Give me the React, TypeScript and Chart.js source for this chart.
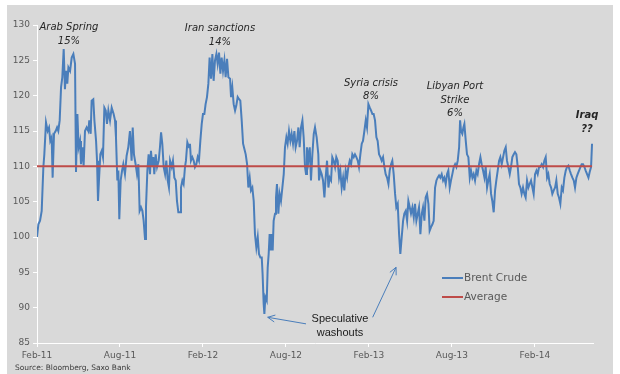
import { useEffect, useRef } from 'react';
import { Chart, registerables } from 'chart.js';

Chart.register(...registerables);

// ---- DATA ----
// [months since Feb-2011, Brent price USD/bbl]
const BRENT_POINTS: [number, number][] = [
  [0, 100.0], [0.10, 101.8], [0.22, 102.3], [0.34, 103.7], [0.46, 109.9], [0.53, 111.7], [0.65, 116.2], [0.77, 115.0], [0.87, 115.5], [0.96, 113.6],
  [1.06, 114.1], [1.13, 108.4], [1.23, 114.6], [1.35, 115.0], [1.45, 115.5], [1.54, 115.0], [1.64, 116.5], [1.74, 121.2], [1.83, 122.6], [1.93, 126.6],
  [2.02, 120.9], [2.10, 123.5], [2.19, 121.7], [2.27, 124.0], [2.39, 123.5], [2.51, 125.4], [2.63, 125.9], [2.75, 124.5], [2.82, 109.2], [2.92, 117.4],
  [3.01, 112.7], [3.11, 113.6], [3.18, 110.3], [3.28, 112.7], [3.37, 110.1], [3.47, 115.0], [3.59, 115.5], [3.71, 115.0], [3.78, 116.5], [3.88, 114.6],
  [3.95, 119.3], [4.07, 119.5], [4.15, 116.5], [4.27, 113.6], [4.34, 110.8], [4.41, 105.1], [4.48, 108.0], [4.58, 111.7], [4.68, 112.2], [4.77, 111.3],
  [4.87, 118.3], [4.97, 117.9], [5.06, 116.0], [5.16, 117.9], [5.28, 116.5], [5.40, 118.3], [5.54, 117.4], [5.64, 116.5], [5.71, 114.1], [5.81, 108.0],
  [5.88, 109.4], [5.95, 102.5], [6.05, 108.0], [6.15, 109.4], [6.24, 110.3], [6.36, 108.9], [6.48, 111.5], [6.60, 112.7], [6.72, 115.0], [6.84, 110.8],
  [6.92, 115.5], [7.01, 111.7], [7.13, 110.3], [7.23, 108.9], [7.33, 110.3], [7.42, 103.7], [7.52, 104.2], [7.62, 103.7], [7.71, 102.3], [7.81, 99.7],
  [7.88, 104.2], [7.98, 109.4], [8.07, 111.7], [8.17, 108.9], [8.24, 112.2], [8.34, 109.9], [8.41, 111.3], [8.48, 108.9], [8.58, 111.7], [8.68, 109.9],
  [8.80, 110.8], [8.89, 112.7], [8.97, 114.8], [9.06, 113.2], [9.16, 109.9], [9.26, 108.9], [9.35, 110.8], [9.45, 108.0], [9.54, 107.0], [9.62, 110.8],
  [9.74, 109.9], [9.83, 110.8], [9.93, 108.4], [10.03, 108.0], [10.12, 105.1], [10.22, 103.5],
  [10.34, 103.5], [10.41, 107.0], [10.51, 108.0], [10.60, 107.5], [10.70, 109.9], [10.77, 110.8], [10.87, 113.4], [10.99, 112.7], [11.06, 113.2], [11.13, 110.8],
  [11.23, 111.3], [11.33, 110.8], [11.42, 109.9], [11.52, 110.3], [11.62, 111.3], [11.71, 110.8], [11.81, 113.6], [11.91, 116.0], [12.00, 117.4], [12.10, 117.4],
  [12.19, 118.8], [12.29, 119.8], [12.39, 121.7], [12.48, 125.4], [12.58, 122.4], [12.68, 125.9], [12.77, 122.1], [12.87, 125.0], [12.97, 125.9], [13.06, 124.5],
  [13.16, 126.1], [13.26, 123.1], [13.35, 125.4], [13.45, 123.5], [13.55, 125.0], [13.64, 122.6], [13.74, 125.2], [13.84, 122.6], [13.96, 122.4], [14.03, 119.8],
  [14.12, 121.2], [14.22, 118.8], [14.32, 117.9], [14.41, 118.6], [14.51, 119.8], [14.61, 119.5], [14.70, 119.3], [14.80, 116.5], [14.90, 113.2], [14.99, 112.5],
  [15.09, 111.7], [15.19, 110.3], [15.28, 107.0], [15.38, 108.4], [15.47, 106.6], [15.57, 107.0], [15.67, 105.1], [15.76, 100.4], [15.86, 98.5], [15.96, 100.0],
  [16.05, 97.6], [16.15, 97.1], [16.25, 97.1], [16.31, 94.8], [16.39, 90.5], [16.44, 89.1], [16.51, 91.5], [16.61, 91.0], [16.68, 95.7], [16.75, 97.6],
  [16.82, 100.4], [16.90, 98.1], [16.97, 100.4], [17.04, 98.1], [17.11, 102.3], [17.21, 103.3], [17.28, 105.6], [17.35, 107.5], [17.45, 103.3], [17.54, 106.1],
  [17.64, 105.1], [17.74, 107.0], [17.84, 108.9], [17.93, 112.7], [18.03, 114.1], [18.12, 113.2], [18.22, 115.0], [18.32, 113.6], [18.41, 114.6], [18.51, 113.2],
  [18.61, 115.0], [18.70, 112.7], [18.80, 113.6], [18.90, 115.5], [18.99, 112.7], [19.09, 115.5], [19.19, 116.5], [19.28, 114.1], [19.38, 109.9], [19.45, 108.9],
  [19.52, 112.7], [19.62, 110.8], [19.72, 112.7], [19.81, 108.0], [19.91, 111.7], [20.01, 114.6], [20.10, 115.5], [20.22, 114.1], [20.34, 111.7],
  [20.39, 108.0], [20.49, 109.4], [20.58, 108.9], [20.68, 108.0], [20.78, 105.6], [20.87, 108.4], [20.97, 110.8], [21.07, 107.0], [21.16, 108.4], [21.26, 108.0],
  [21.35, 111.3], [21.45, 110.8], [21.55, 109.9], [21.64, 111.3], [21.74, 110.8], [21.84, 108.4], [21.93, 109.4], [22.03, 107.0], [22.13, 108.4], [22.22, 106.6],
  [22.32, 109.4], [22.42, 108.4], [22.51, 109.9], [22.61, 110.8], [22.71, 110.3], [22.80, 111.7], [22.90, 111.3], [22.99, 111.7], [23.09, 111.3], [23.19, 110.8],
  [23.28, 109.9], [23.38, 111.7], [23.48, 113.2], [23.57, 113.6], [23.67, 115.0], [23.77, 116.5], [23.86, 115.5], [23.96, 118.8], [24.06, 118.3], [24.15, 117.9],
  [24.25, 117.4], [24.34, 117.4], [24.44, 116.5], [24.54, 114.1], [24.63, 113.6], [24.73, 111.7], [24.83, 111.3], [24.92, 110.8], [25.02, 111.3], [25.12, 109.9],
  [25.21, 108.9], [25.31, 108.4], [25.41, 107.5], [25.50, 109.4], [25.60, 110.3], [25.69, 110.8], [25.79, 108.9], [25.89, 106.1], [25.98, 104.2], [26.08, 104.7],
  [26.18, 100.4], [26.27, 97.6], [26.37, 100.0], [26.47, 102.3], [26.56, 103.3], [26.66, 103.7], [26.76, 102.3], [26.85, 105.1], [26.95, 104.2], [27.04, 103.3],
  [27.14, 104.2], [27.24, 102.8], [27.33, 104.7], [27.43, 102.3], [27.53, 103.3], [27.62, 104.2], [27.72, 100.4], [27.82, 103.3], [27.91, 104.2], [28.01, 102.3],
  [28.10, 105.6], [28.20, 106.1], [28.30, 104.7], [28.39, 100.9], [28.49, 101.4], [28.59, 101.8], [28.68, 102.3], [28.78, 107.0], [28.88, 108.0], [28.97, 108.4],
  [29.07, 108.7], [29.16, 108.4], [29.26, 108.9], [29.36, 108.0], [29.45, 108.4], [29.55, 107.5], [29.65, 108.9], [29.74, 109.4], [29.84, 107.0], [29.93, 108.0],
  [30.03, 108.9], [30.13, 109.9], [30.23, 110.3], [30.32, 109.9], [30.42, 110.8], [30.52, 112.7],
  [30.59, 116.5], [30.66, 115.0], [30.75, 114.6], [30.83, 115.5], [30.90, 116.0], [31.00, 113.6], [31.09, 111.7], [31.19, 111.3], [31.29, 108.4], [31.38, 109.4],
  [31.48, 108.4], [31.57, 108.9], [31.67, 108.0], [31.77, 109.4], [31.86, 108.9], [31.96, 110.3], [32.06, 111.3], [32.15, 110.3], [32.25, 109.4], [32.35, 108.4],
  [32.44, 109.9], [32.54, 107.0], [32.63, 108.0], [32.73, 108.9], [32.83, 106.1], [32.92, 105.1], [33.02, 103.5], [33.12, 106.6], [33.21, 108.0], [33.31, 109.4],
  [33.41, 110.8], [33.50, 111.3], [33.60, 110.3], [33.70, 111.3], [33.79, 112.2], [33.89, 112.7], [33.98, 110.8], [34.08, 109.9], [34.18, 108.9], [34.27, 109.9],
  [34.37, 111.3], [34.47, 111.7], [34.56, 112.0], [34.66, 111.7], [34.76, 109.9], [34.85, 107.5], [34.95, 107.0], [35.04, 106.1], [35.14, 107.0], [35.24, 106.1],
  [35.33, 105.6], [35.43, 108.0], [35.53, 107.0], [35.62, 107.5], [35.72, 108.0], [35.82, 107.0], [35.91, 106.1], [36.01, 108.9], [36.11, 109.4], [36.20, 108.9],
  [36.30, 109.9], [36.39, 109.9], [36.49, 110.3], [36.59, 109.9], [36.68, 110.8], [36.78, 111.3], [36.88, 108.4], [36.97, 108.9], [37.07, 107.5], [37.17, 107.0],
  [37.26, 106.1], [37.36, 106.6], [37.46, 107.0], [37.55, 108.0], [37.65, 106.1], [37.74, 105.6], [37.84, 104.7], [37.94, 107.0], [38.03, 106.6], [38.13, 108.4],
  [38.23, 109.4], [38.32, 109.9], [38.42, 110.1], [38.52, 109.4], [38.61, 108.9], [38.71, 108.4], [38.81, 108.0], [38.90, 107.0], [39.00, 108.4], [39.09, 108.9],
  [39.19, 109.4], [39.29, 109.9], [39.38, 110.3], [39.48, 110.3], [39.58, 109.9], [39.67, 109.4], [39.77, 108.9], [39.87, 108.4], [39.96, 109.2], [40.06, 109.9],
  [40.13, 113.2],
];

const AVERAGE_PRICE = 110;
const SERIES_NAMES = ['Brent Crude', 'Average'];
const TICK_MONTHS = [0, 6, 12, 18, 24, 30, 36];
const TICK_LABELS = ['Feb-11', 'Aug-11', 'Feb-12', 'Aug-12', 'Feb-13', 'Aug-13', 'Feb-14'];
const Y_MIN = 85;
const Y_MAX = 130;
const Y_STEP = 5;
const X_MAX = 40.2;

const EVENT_TEXTS: string[][] = [
  ['Arab Spring', '15%'],
  ['Iran sanctions', '14%'],
  ['Syria crisis', '8%'],
  ['Libyan Port', 'Strike', '6%'],
  ['Iraq', '??'],
];
const WASHOUT_TEXT = ['Speculative', 'washouts'];
const SOURCE_TEXT = 'Source: Bloomberg, Saxo Bank';

// ---- PLACEMENT / STYLE ----
const EVENT_PLACEMENT = [
  { month: 2.31, price: 129.62, bold: false },
  { month: 13.23, price: 129.48, bold: false },
  { month: 24.15, price: 121.77, bold: false },
  { month: 30.22, price: 121.27, bold: false },
  { month: 39.77, price: 117.17, bold: true },
];
const WASHOUT_PLACEMENT = { month: 21.91, price: 88.46 };
const WASHOUT_ARROWS = [
  { from: [19.45, 87.71], to: [16.68, 88.64] },
  { from: [24.27, 88.64], to: [25.96, 95.71] },
];

const BLUE = '#4a7ebb';
const RED = '#be4b48';
const BG = '#d9d9d9';
const TICK_COLOR = '#595959';
const FONT = 'DejaVu Sans';

function drawArrow(ctx: CanvasRenderingContext2D, x1: number, y1: number, x2: number, y2: number) {
  ctx.beginPath();
  ctx.moveTo(x1, y1);
  ctx.lineTo(x2, y2);
  ctx.stroke();
  const a = Math.atan2(y2 - y1, x2 - x1);
  const L = 8;
  const w = 0.45;
  ctx.beginPath();
  ctx.moveTo(x2 - L * Math.cos(a - w), y2 - L * Math.sin(a - w));
  ctx.lineTo(x2, y2);
  ctx.lineTo(x2 - L * Math.cos(a + w), y2 - L * Math.sin(a + w));
  ctx.stroke();
}

const decorations = {
  id: 'decorations',
  beforeDraw(chart: any) {
    const ctx = chart.ctx as CanvasRenderingContext2D;
    ctx.save();
    ctx.fillStyle = BG;
    ctx.fillRect(7, 5, 606, 369);
    ctx.restore();
  },
  afterDatasetsDraw(chart: any) {
    const ctx = chart.ctx as CanvasRenderingContext2D;
    const xs = chart.scales.x;
    const ys = chart.scales.y;
    const area = chart.chartArea;
    ctx.save();

    // event annotations
    ctx.textAlign = 'center';
    ctx.textBaseline = 'middle';
    ctx.fillStyle = '#262626';
    EVENT_TEXTS.forEach((lines, i) => {
      const p = EVENT_PLACEMENT[i];
      const x = xs.getPixelForValue(p.month);
      const y0 = ys.getPixelForValue(p.price);
      ctx.font = `italic ${p.bold ? 'bold ' : ''}10px "${FONT}"`;
      lines.forEach((t, j) => ctx.fillText(t, x, y0 + j * 13.3));
    });

    // speculative washouts
    ctx.font = '11px "Liberation Sans"';
    ctx.fillStyle = '#1a1a1a';
    const wx = xs.getPixelForValue(WASHOUT_PLACEMENT.month);
    const wy = ys.getPixelForValue(WASHOUT_PLACEMENT.price);
    WASHOUT_TEXT.forEach((t, j) => ctx.fillText(t, wx, wy + j * 14));

    ctx.strokeStyle = BLUE;
    ctx.lineWidth = 1;
    WASHOUT_ARROWS.forEach((a) => {
      drawArrow(
        ctx,
        xs.getPixelForValue(a.from[0]), ys.getPixelForValue(a.from[1]),
        xs.getPixelForValue(a.to[0]), ys.getPixelForValue(a.to[1])
      );
    });

    // legend
    ctx.textAlign = 'left';
    ctx.font = `10.5px "${FONT}"`;
    const lx = area.left + 405;
    chart.data.datasets.forEach((ds: any, i: number) => {
      const ly = area.top + 253 + i * 19;
      ctx.strokeStyle = ds.borderColor;
      ctx.lineWidth = 2;
      ctx.beginPath();
      ctx.moveTo(lx, ly);
      ctx.lineTo(lx + 21, ly);
      ctx.stroke();
      ctx.fillStyle = TICK_COLOR;
      ctx.fillText(ds.label, lx + 22, ly);
    });

    // source
    ctx.font = `7.5px "${FONT}"`;
    ctx.fillStyle = '#3a3a3a';
    ctx.fillText(SOURCE_TEXT, 15, 368);

    ctx.restore();
  },
};

export default function App() {
  const ref = useRef<HTMLCanvasElement>(null);
  useEffect(() => {
    document.body.style.margin = '0';
    const first = BRENT_POINTS[0][0];
    const last = BRENT_POINTS[BRENT_POINTS.length - 1][0];
    const chart = new Chart(ref.current as HTMLCanvasElement, {
      type: 'line',
      data: {
        datasets: [
          {
            label: SERIES_NAMES[0],
            data: BRENT_POINTS.map(([m, p]) => ({ x: m, y: p })),
            borderColor: BLUE,
            borderWidth: 2,
            pointRadius: 0,
            tension: 0,
            order: 1,
          },
          {
            label: SERIES_NAMES[1],
            data: [
              { x: first, y: AVERAGE_PRICE },
              { x: last, y: AVERAGE_PRICE },
            ],
            borderColor: RED,
            borderWidth: 2,
            pointRadius: 0,
            tension: 0,
            order: 0,
          },
        ],
      },
      options: {
        animation: false,
        responsive: false,
        devicePixelRatio: 1,
        layout: { padding: { top: 25, right: 27, left: 0, bottom: 0 } },
        plugins: { legend: { display: false }, tooltip: { enabled: false } },
        scales: {
          x: {
            type: 'linear',
            min: 0,
            max: X_MAX,
            afterBuildTicks: (s: any) => {
              s.ticks = TICK_MONTHS.map((v) => ({ value: v }));
            },
            afterFit: (s: any) => {
              s.height = 31;
            },
            ticks: {
              autoSkip: false,
              maxRotation: 0,
              padding: 3,
              color: TICK_COLOR,
              font: { family: FONT, size: 9 },
              callback: (v: any) => {
                const i = TICK_MONTHS.indexOf(Number(v));
                return i >= 0 ? TICK_LABELS[i] : '';
              },
            },
            grid: { display: true, drawOnChartArea: false, color: '#ffffff', tickLength: 4 },
            border: { display: true, color: '#ffffff', width: 1 },
          },
          y: {
            min: Y_MIN,
            max: Y_MAX,
            afterFit: (s: any) => {
              s.width = 37;
            },
            ticks: {
              stepSize: Y_STEP,
              padding: 3,
              color: TICK_COLOR,
              font: { family: FONT, size: 9 },
            },
            grid: { display: true, drawOnChartArea: false, color: '#ffffff', tickLength: 4 },
            border: { display: true, color: '#ffffff', width: 1 },
          },
        },
      },
      plugins: [decorations],
    } as any);
    return () => chart.destroy();
  }, []);
  return (
    <canvas
      ref={ref}
      width={620}
      height={374}
      style={{ display: 'block', width: 620, height: 374 }}
    />
  );
}
